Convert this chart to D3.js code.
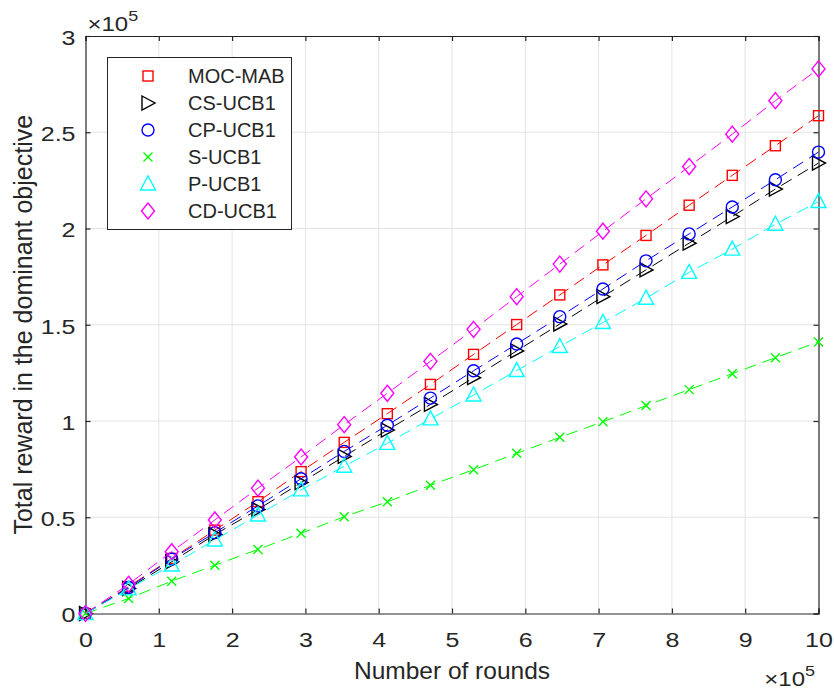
<!DOCTYPE html>
<html>
<head>
<meta charset="utf-8">
<script src="https://cdn.jsdelivr.net/npm/d3@7"></script>
<style>
  body { margin: 0; background: #fff; }
  text { font-family: "Liberation Sans", Arial, sans-serif; fill: #262626; }
</style>
</head>
<body>
<svg id="chart" width="834" height="692"></svg>
<script>
// rounds, in units of 1e5
const rounds = [0, 0.5882, 1.1765, 1.7647, 2.3529, 2.9412, 3.5294, 4.1176, 4.7059,
  5.2941, 5.8824, 6.4706, 7.0588, 7.6471, 8.2353, 8.8235, 9.4118, 10];

// total reward, in units of 1e5
const mocMab = [0, 0.14, 0.286, 0.433, 0.581, 0.737, 0.889, 1.038, 1.19, 1.346, 1.501, 1.655, 1.811, 1.964, 2.121, 2.276, 2.43, 2.586];
const csUcb1 = [0, 0.13, 0.269, 0.41, 0.54, 0.68, 0.816, 0.953, 1.086, 1.225, 1.364, 1.504, 1.646, 1.785, 1.924, 2.062, 2.205, 2.34];
const cpUcb1 = [0, 0.135, 0.283, 0.42, 0.559, 0.70, 0.842, 0.978, 1.119, 1.261, 1.40, 1.542, 1.686, 1.832, 1.972, 2.112, 2.253, 2.397];
const sUcb1 = [0, 0.078, 0.168, 0.251, 0.333, 0.417, 0.503, 0.58, 0.666, 0.747, 0.832, 0.915, 0.996, 1.08, 1.163, 1.246, 1.329, 1.411];
const pUcb1 = [0, 0.128, 0.252, 0.382, 0.512, 0.642, 0.765, 0.884, 1.011, 1.135, 1.262, 1.387, 1.512, 1.638, 1.772, 1.893, 2.022, 2.14];
const cdUcb1 = [0, 0.152, 0.321, 0.486, 0.651, 0.813, 0.981, 1.144, 1.31, 1.476, 1.646, 1.815, 1.986, 2.154, 2.322, 2.49, 2.664, 2.829];

const xTicks = [0, 1, 2, 3, 4, 5, 6, 7, 8, 9, 10];
const yTicks = [0, 0.5, 1, 1.5, 2, 2.5, 3];

const series = [
  {name: "MOC-MAB", values: mocMab, color: "#ff0000", marker: "square"},
  {name: "CS-UCB1", values: csUcb1, color: "#000000", marker: "triangleRight"},
  {name: "CP-UCB1", values: cpUcb1, color: "#0000ff", marker: "circle"},
  {name: "S-UCB1", values: sUcb1, color: "#00ff00", marker: "cross"},
  {name: "P-UCB1", values: pUcb1, color: "#00ffff", marker: "triangleUp"},
  {name: "CD-UCB1", values: cdUcb1, color: "#ff00ff", marker: "diamond"}
];

const svg = d3.select("#chart");
const plotL = 85.5, plotR = 818.5, plotT = 36, plotB = 613.5;

const x = d3.scaleLinear().domain([0, 10]).range([plotL, plotR]);
const y = d3.scaleLinear().domain([0, 3]).range([plotB, plotT]);

// grid
svg.append("g").selectAll("line").data(xTicks.slice(1, -1)).join("line")
  .attr("x1", d => x(d)).attr("x2", d => x(d)).attr("y1", plotT).attr("y2", plotB)
  .attr("stroke", "#e3e3e3").attr("stroke-width", 1);
svg.append("g").selectAll("line").data(yTicks.slice(1, -1)).join("line")
  .attr("y1", d => y(d)).attr("y2", d => y(d)).attr("x1", plotL).attr("x2", plotR)
  .attr("stroke", "#e3e3e3").attr("stroke-width", 1);

// axes
const axisColor = "#262626";
const xAxis = svg.append("g").attr("transform", `translate(0,${plotB})`)
  .call(d3.axisBottom(x).tickValues(xTicks).tickSize(-5).tickPadding(19).tickFormat(d3.format("d")));
const xTop = svg.append("g").attr("transform", `translate(0,${plotT})`)
  .call(d3.axisTop(x).tickValues(xTicks).tickSize(-5).tickFormat(""));
const yAxis = svg.append("g").attr("transform", `translate(${plotL},0)`)
  .call(d3.axisLeft(y).tickValues(yTicks).tickSize(-5).tickFormat(d => d));
const yRight = svg.append("g").attr("transform", `translate(${plotR},0)`)
  .call(d3.axisRight(y).tickValues(yTicks).tickSize(-5).tickFormat(""));

[xAxis, xTop, yAxis, yRight].forEach(g => {
  g.select(".domain").attr("stroke", axisColor).attr("stroke-width", 1.2);
  g.selectAll(".tick line").attr("stroke", axisColor).attr("stroke-width", 1.2);
  g.selectAll("text").attr("font-size", 20).attr("font-family", "Liberation Sans, Arial, sans-serif").attr("fill", axisColor);
});
// the tick digits are drawn a little wider than the font
xAxis.selectAll(".tick text").attr("transform", "scale(1.25,1)");
yAxis.selectAll(".tick text").attr("x", 0).attr("dy", "0.42em")
  .attr("transform", "translate(-10,0) scale(1.25,1)");

// exponents
function exponent(xp, yp, anchor) {
  const t = svg.append("text").attr("x", 0).attr("y", 0).attr("font-size", 20).attr("text-anchor", anchor)
    .attr("transform", `translate(${xp},${yp}) scale(1.2,1)`);
  t.append("tspan").text("\u00d710");
  t.append("tspan").attr("dy", -10).attr("font-size", 15).text("5");
}
exponent(x(0) + 2, 31, "start");
exponent(815, 686, "end");

// axis labels
svg.append("text").attr("x", (plotL + plotR) / 2).attr("y", 679).attr("text-anchor", "middle")
  .attr("font-size", 24.5).text("Number of rounds");
svg.append("text").attr("transform", `translate(32,${(plotT + plotB) / 2}) rotate(-90)`)
  .attr("text-anchor", "middle").attr("font-size", 25).text("Total reward in the dominant objective");

// markers
function drawMarker(g, type, color) {
  if (type === "square") {
    g.append("rect").attr("x", -5).attr("y", -5).attr("width", 10).attr("height", 10);
  } else if (type === "circle") {
    g.append("circle").attr("r", 6);
  } else if (type === "triangleRight") {
    g.append("path").attr("d", "M-6,-7L7,0L-6,7Z");
  } else if (type === "triangleUp") {
    g.append("path").attr("d", "M0,-8L7.5,6L-7.5,6Z");
  } else if (type === "diamond") {
    g.append("path").attr("d", "M0,-8L6.5,0L0,8L-6.5,0Z");
  } else if (type === "cross") {
    g.append("path").attr("d", "M-4.5,-4.5L4.5,4.5M-4.5,4.5L4.5,-4.5");
  }
  g.selectAll("*").attr("fill", "none").attr("stroke", color).attr("stroke-width", 1.4);
}

const line = d3.line().x(d => x(d[0])).y(d => y(d[1]));

series.forEach(s => {
  const pts = rounds.map((r, i) => [r, s.values[i]]);
  svg.append("path").datum(pts).attr("d", line)
    .attr("fill", "none").attr("stroke", s.color).attr("stroke-width", 1)
    .attr("stroke-dasharray", "12,7");
  svg.append("g").selectAll("g").data(pts).join("g")
    .attr("transform", d => `translate(${x(d[0])},${y(d[1])})`)
    .each(function() { drawMarker(d3.select(this), s.marker, s.color); });
});

// legend
const lg = svg.append("g");
lg.append("rect").attr("x", 107.5).attr("y", 57.5).attr("width", 184).attr("height", 172)
  .attr("fill", "#fff").attr("stroke", axisColor).attr("stroke-width", 1);
series.forEach((s, i) => {
  const cy = 76 + i * 27;
  const g = lg.append("g").attr("transform", `translate(148,${cy})`);
  drawMarker(g, s.marker, s.color);
  lg.append("text").attr("x", 188).attr("y", cy + 7).attr("font-size", 20).text(s.name);
});
</script>
</body>
</html>
